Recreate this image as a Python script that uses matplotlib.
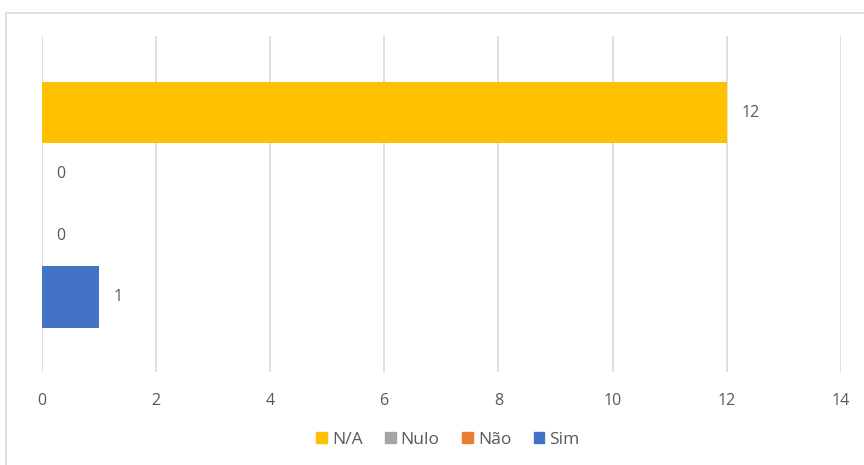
import matplotlib
matplotlib.use("Agg")
import matplotlib.pyplot as plt
from matplotlib.patches import Rectangle, Patch

# one category, four series (bottom to top)
series = ["Sim", "Não", "Nulo", "N/A"]
values = [1, 0, 0, 12]
colors = ["#4472C4", "#ED7D31", "#A5A5A5", "#FFC000"]
xticks = [0, 2, 4, 6, 8, 10, 12, 14]

plt.rcParams["font.family"] = ["Open Sans", "DejaVu Sans"]
text_color = "#595959"
grid_color = "#D9D9D9"

fig = plt.figure(figsize=(8.64, 4.65), dpi=100)
ax = fig.add_axes([41.5 / 864, 93 / 465, 799.5 / 864, 336 / 465])

pos = list(range(len(series)))
ax.barh(pos, values, height=1.0, color=colors, zorder=3)

for p, v in zip(pos, values):
    ax.text(v + 0.26, p, str(v), va="center", ha="left",
            fontsize=11.5, color=text_color)

ax.set_xlim(0, 14)
ax.set_ylim(-1.22, 4.25)
ax.set_xticks(xticks)
ax.set_xticklabels([str(t) for t in xticks])
ax.set_yticks([])
ax.tick_params(axis="x", length=0, pad=15, labelsize=11.5, labelcolor=text_color)
ax.grid(axis="x", color=grid_color, linewidth=1.2, zorder=0)
for s in ax.spines.values():
    s.set_visible(False)

# chart area border
fig.patches.append(Rectangle((6 / 864, -0.1), 1.0, (465 - 13) / 465 + 0.1,
                             transform=fig.transFigure, fill=False,
                             edgecolor=grid_color, linewidth=1.2))

handles = [Patch(color=c, label=s) for s, c in zip(series, colors)]
handles = handles[::-1]
fig.legend(handles=handles, loc="center", bbox_to_anchor=(448 / 864, 1 - 440 / 465),
           ncol=4, frameon=False, fontsize=12.5, handlelength=0.6, handleheight=0.6,
           handletextpad=0.3, columnspacing=1.3, labelcolor=text_color)

fig.savefig("out.png", dpi=100)
